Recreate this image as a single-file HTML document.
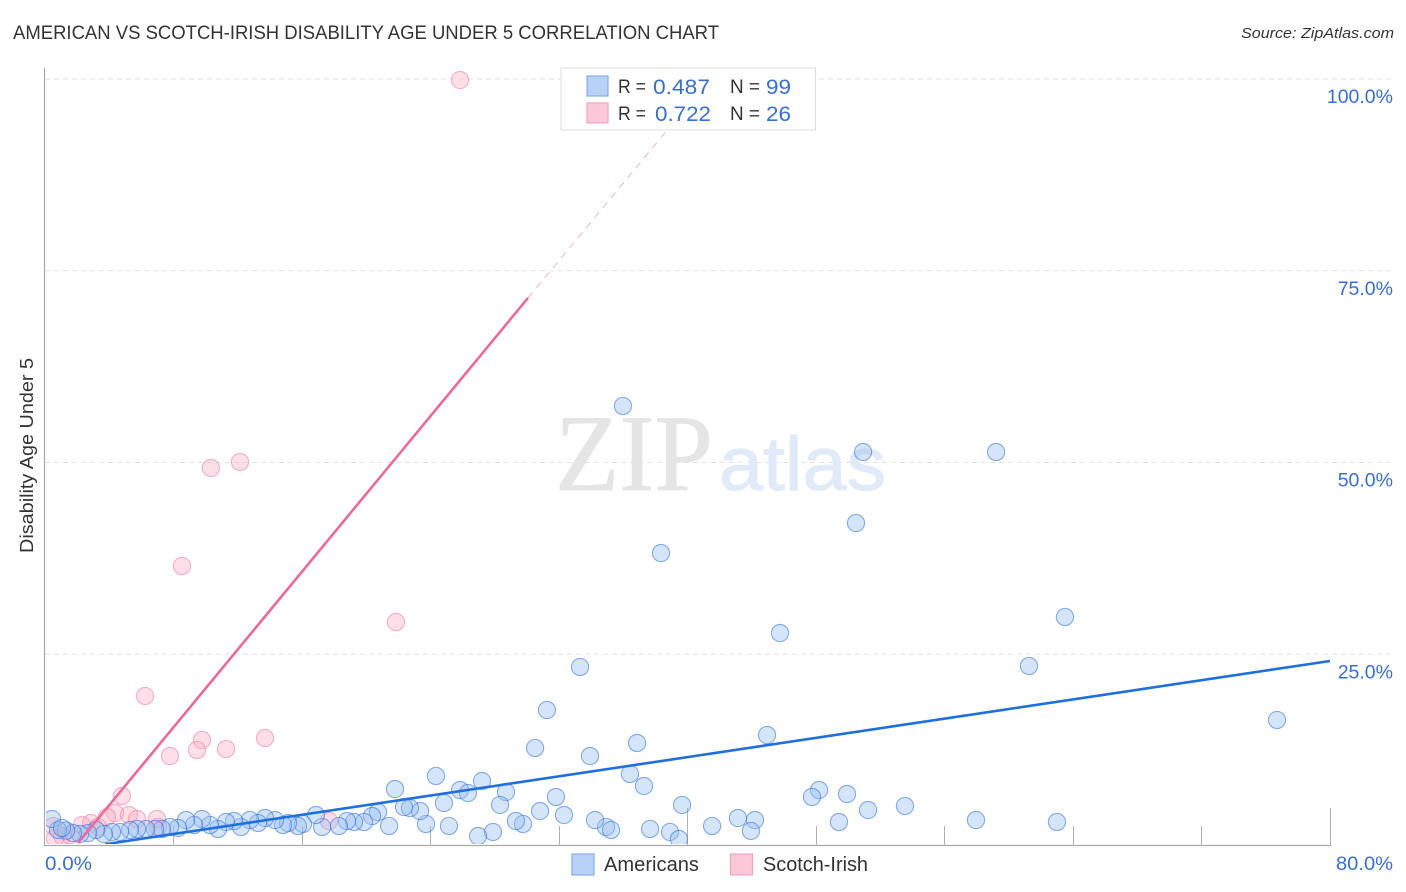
<!DOCTYPE html>
<html lang="en">
<head>
<meta charset="utf-8">
<title>American vs Scotch-Irish Disability Age Under 5 Correlation Chart</title>
<style>
  html, body { margin: 0; padding: 0; background: #fff; }
  #chart { display: block; width: 1406px; height: 892px; font-family: "Liberation Sans", sans-serif; }
</style>
</head>
<body>
<svg id="chart" xmlns="http://www.w3.org/2000/svg" width="1406" height="892" viewBox="0 0 1406 892">
  <defs>
    <clipPath id="plot-clip"><rect x="46" y="60" width="1290" height="784"></rect></clipPath>
  </defs>
  <text x="13" y="39" font-size="19" fill="#333" textLength="706" lengthAdjust="spacingAndGlyphs">AMERICAN VS SCOTCH-IRISH DISABILITY AGE UNDER 5 CORRELATION CHART</text>
  <text x="1241" y="38" font-size="15" font-style="italic" fill="#333" textLength="153" lengthAdjust="spacingAndGlyphs">Source: ZipAtlas.com</text>

  <g id="grid"></g>

  <g>
    <text x="555" y="490" font-family="'Liberation Serif', serif" font-size="109" fill="#e5e5e5" stroke="#e5e5e5" stroke-width="0.8" textLength="158" lengthAdjust="spacingAndGlyphs">ZIP</text>
    <text x="719" y="490" font-family="'Liberation Sans', sans-serif" font-size="76" fill="#e1eaf9" stroke="#e1eaf9" stroke-width="1" textLength="167" lengthAdjust="spacingAndGlyphs">atlas</text>
  </g>

  <g id="axes"></g>
  <g id="marks" clip-path="url(#plot-clip)"></g>
  <g id="tick-labels"></g>

  <text transform="translate(33 455.5) rotate(-90)" text-anchor="middle" font-size="18" fill="#333" textLength="195" lengthAdjust="spacingAndGlyphs">Disability Age Under 5</text>

  <g>
    <rect x="561" y="68" width="254.5" height="62" fill="#fff" stroke="#dcdcdc" stroke-width="1"></rect>
    <rect x="587" y="76" width="21" height="20" fill="#b7d2f5" stroke="#86aee6" stroke-width="1.2"></rect>
    <text x="618" y="93" font-size="19" fill="#333" textLength="28" lengthAdjust="spacingAndGlyphs">R =</text>
    <text x="653" y="94" font-size="21.5" fill="#3a6fd0" textLength="57" lengthAdjust="spacingAndGlyphs">0.487</text>
    <text x="730" y="93" font-size="19" fill="#333" textLength="30" lengthAdjust="spacingAndGlyphs">N =</text>
    <text x="766" y="94" font-size="21.5" fill="#3a6fd0" textLength="25" lengthAdjust="spacingAndGlyphs">99</text>
    <rect x="587" y="103" width="21" height="20" fill="#fcc8d8" stroke="#f0a5bd" stroke-width="1.2"></rect>
    <text x="618" y="120" font-size="19" fill="#333" textLength="28" lengthAdjust="spacingAndGlyphs">R =</text>
    <text x="655" y="121" font-size="21.5" fill="#3a6fd0" textLength="56" lengthAdjust="spacingAndGlyphs">0.722</text>
    <text x="730" y="120" font-size="19" fill="#333" textLength="30" lengthAdjust="spacingAndGlyphs">N =</text>
    <text x="766" y="121" font-size="21.5" fill="#3a6fd0" textLength="25" lengthAdjust="spacingAndGlyphs">26</text>
  </g>

  <g>
    <g>
      <rect x="572" y="854" width="22" height="21" fill="#b7d2f5" stroke="#86aee6" stroke-width="1.2"></rect>
      <text x="604" y="871" font-size="20" fill="#333" textLength="95" lengthAdjust="spacingAndGlyphs">Americans</text>
    </g>
    <g>
      <rect x="730.5" y="854" width="22" height="21" fill="#fcc8d8" stroke="#f0a5bd" stroke-width="1.2"></rect>
      <text x="763" y="871" font-size="20" fill="#333" textLength="105" lengthAdjust="spacingAndGlyphs">Scotch-Irish</text>
    </g>
  </g>
</svg>

<script>
const xTickValues = [0, 8, 16, 24, 32, 40, 48, 56, 64, 72, 80];
const majorXTicks = [40, 80];
const yGridValues = [25, 50, 75, 100];
const yTickLabels = ['25.0%', '50.0%', '75.0%', '100.0%'];
const xEdgeValues = [0, 80];
const xEdgeLabels = ['0.0%', '80.0%'];

const americansX = [35.98,50.93,59.21,50.49,38.35,63.50,45.76,33.31,61.26,76.70,31.25,30.51,33.93,36.86,44.95,24.34,21.79,27.21,25.84,26.33,28.70,36.42,37.29,31.81,39.66,48.19,47.75,49.93,53.54,51.24,43.14,44.20,43.95,41.53,49.43,57.96,63.00,37.67,38.91,39.47,34.93,35.24,34.24,32.31,30.82,29.76,29.32,28.33,27.89,26.96,25.15,24.84,23.72,23.35,22.72,22.35,21.42,20.73,20.36,19.86,19.24,18.80,18.30,17.25,16.87,16.06,15.75,15.13,14.82,14.32,13.70,13.26,12.76,12.20,11.77,11.27,10.77,10.27,9.77,9.28,8.78,8.28,7.78,7.28,6.85,6.29,5.73,5.29,4.67,4.17,3.67,3.18,2.68,2.18,1.74,1.31,0.81,0.44,1.06];
const americansY = [57.37,51.37,51.37,42.11,38.20,29.86,27.77,23.34,23.47,16.43,17.73,12.78,11.73,13.43,14.47,9.13,7.43,8.47,7.30,6.91,7.04,9.39,7.82,6.39,5.35,7.30,6.39,6.78,5.22,4.69,3.65,3.39,1.96,2.61,3.13,3.39,3.13,2.22,1.83,0.91,2.48,2.09,3.39,4.04,4.56,2.87,3.26,5.35,1.83,1.30,2.61,5.61,2.87,4.56,4.95,5.08,2.61,4.43,3.91,3.13,3.13,3.26,2.61,2.48,4.04,2.87,2.61,3.00,2.74,3.39,3.65,3.00,3.39,2.48,3.26,3.13,2.22,2.74,3.52,2.74,3.39,2.35,2.48,2.22,2.22,2.22,2.22,2.09,1.83,1.83,1.56,2.09,1.69,1.56,1.69,2.00,2.09,3.52,2.35];
const scotchIrishX = [25.84,12.14,10.33,8.53,21.85,6.23,7.78,9.77,9.46,11.27,13.70,4.79,4.36,5.23,5.73,6.97,3.86,2.86,2.30,7.04,17.68,3.30,0.50,1.06,1.56,0.62];
const scotchIrishY = [99.87,50.07,49.28,36.51,29.20,19.56,11.73,13.82,12.52,12.65,14.08,6.52,4.30,4.04,3.52,3.52,3.78,3.00,2.74,2.48,3.26,2.48,2.61,1.30,1.43,1.00];

const americansTrendX = [3.75, 80];
const americansTrendY = [0.23, 24.12];
const scotchIrishTrendX = [2.05, 30.07];
const scotchIrishTrendY = [0.39, 71.45];
const scotchIrishDashX = [30.07, 38.79];
const scotchIrishDashY = [71.45, 93.48];

const SVG_NS = 'http://www.w3.org/2000/svg';
function xScale(v) { return 45 + v * 16.0625; }
function yScale(v) { return 846 - v * 7.67; }
function make(tag, parent, attrs) {
  const el = document.createElementNS(SVG_NS, tag);
  Object.keys(attrs).forEach(function (k) { el.setAttribute(k, attrs[k]); });
  parent.appendChild(el);
  return el;
}

const gridGroup = document.getElementById('grid');
const axesGroup = document.getElementById('axes');
const marksGroup = document.getElementById('marks');
const labelsGroup = document.getElementById('tick-labels');

yGridValues.forEach(function (v, i) {
  const y = yScale(v);
  const grid = make('line', gridGroup, { x1: 45, x2: 1394, y1: y, y2: y, stroke: '#e2e2e2', 'stroke-width': 1, 'stroke-dasharray': '5 4' });
  
  
  const label = make('text', labelsGroup, { x: 1393, y: y + 24, 'text-anchor': 'end', 'font-size': 19.5, fill: '#3a6fd0' });
  
  
  label.textContent = yTickLabels[i];
});

const yAxis = make('line', axesGroup, { x1: 44.5, x2: 44.5, y1: 68, y2: 846, stroke: '#aaaaaa', 'stroke-width': 1.2 });


const xAxis = make('line', axesGroup, { x1: 44, x2: 1331, y1: 845.5, y2: 845.5, stroke: '#aaaaaa', 'stroke-width': 1.2 });



xTickValues.forEach(function (v) {
  if (v === 0) { return; }
  const x = Math.floor(xScale(v)) + 0.5;
  const top = majorXTicks.indexOf(v) >= 0 ? 808 : 826;
  const tick = make('line', axesGroup, { x1: x, x2: x, y1: top, y2: 845, stroke: '#b0b0b0', 'stroke-width': 1 });
  
  
});

xEdgeValues.forEach(function (v, i) {
  const anchor = i === 0 ? 'start' : 'end';
  const lx = i === 0 ? xScale(v) : 1393;
  const label = make('text', labelsGroup, { x: lx, y: 870, 'text-anchor': anchor, 'font-size': 19.5, fill: '#3a6fd0', textLength: i === 0 ? 47 : 57, lengthAdjust: 'spacingAndGlyphs' });
  
  
  label.textContent = xEdgeLabels[i];
});

scotchIrishX.forEach(function (v, i) {
  const dot = make('circle', marksGroup, { cx: xScale(v), cy: yScale(scotchIrishY[i]), r: 8.6, fill: 'rgba(252,170,195,0.38)', stroke: 'rgba(236,130,165,0.6)', 'stroke-width': 1.1 });
  
  
});
americansX.forEach(function (v, i) {
  const dot = make('circle', marksGroup, { cx: xScale(v), cy: yScale(americansY[i]), r: 8.6, fill: 'rgba(150,190,240,0.4)', stroke: 'rgba(45,110,215,0.55)', 'stroke-width': 1.1 });
  
  
});

const pinkDash = make('line', marksGroup, { x1: xScale(scotchIrishDashX[0]), y1: yScale(scotchIrishDashY[0]), x2: xScale(scotchIrishDashX[1]), y2: yScale(scotchIrishDashY[1]), stroke: '#eeb4c8', 'stroke-width': 1, 'stroke-dasharray': '7 6' });


const pinkTrend = make('line', marksGroup, { x1: xScale(scotchIrishTrendX[0]), y1: yScale(scotchIrishTrendY[0]), x2: xScale(scotchIrishTrendX[1]), y2: yScale(scotchIrishTrendY[1]), stroke: '#ec6a98', 'stroke-width': 2.6 });


const blueTrend = make('line', marksGroup, { x1: xScale(americansTrendX[0]), y1: yScale(americansTrendY[0]), x2: xScale(americansTrendX[1]), y2: yScale(americansTrendY[1]), stroke: '#1f6fdc', 'stroke-width': 2.6 });


</script>
</body>
</html>
